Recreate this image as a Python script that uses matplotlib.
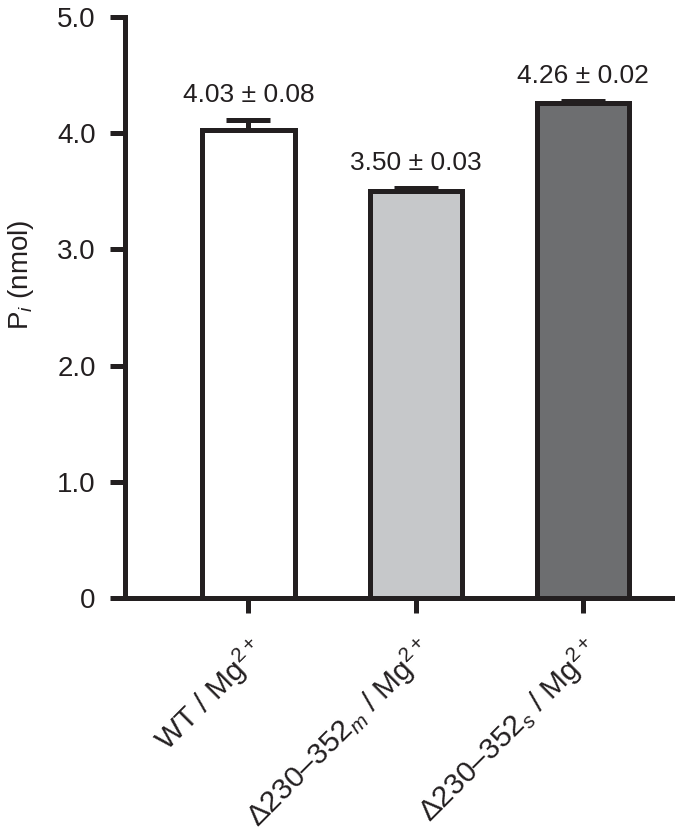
import matplotlib
matplotlib.use('Agg')
import matplotlib.pyplot as plt

plt.rcParams['font.family'] = ['Liberation Sans', 'DejaVu Sans']
plt.rcParams['mathtext.fontset'] = 'custom'
plt.rcParams['mathtext.rm'] = 'Liberation Sans'
plt.rcParams['mathtext.it'] = 'Liberation Sans:italic'

# data
groups = [r'WT / Mg$^{2+}$',
          r'Δ230–352$_{m}$ / Mg$^{2+}$',
          r'Δ230–352$_{s}$ / Mg$^{2+}$']
means = [4.03, 3.50, 4.26]
errors = [0.08, 0.03, 0.02]
value_labels = ['4.03 ± 0.08', '3.50 ± 0.03', '4.26 ± 0.02']
colors = ['#ffffff', '#c6c8ca', '#6d6e70']
yticks = [0, 1, 2, 3, 4, 5]
yticklabels = ['0', '1.0', '2.0', '3.0', '4.0', '5.0']

ink = '#231f20'
lw = 3.6

fig = plt.figure(figsize=(6.75, 8.4), dpi=100)
ax = fig.add_axes([0.1852, 0.288, 0.8148, 0.6918])

x = list(range(len(groups)))
ax.bar(x, means, width=0.55, color=colors, edgecolor=ink, linewidth=lw, zorder=2)
ax.errorbar(x, means, yerr=[[0] * len(errors), errors], fmt='none',
            ecolor=ink, elinewidth=lw, capsize=16, capthick=lw, zorder=3)

for xi, m, e, lab in zip(x, means, errors, value_labels):
    ax.annotate(lab, (xi, m + e), xytext=(0, 13), textcoords='offset points',
                ha='center', va='baseline', fontsize=19, color=ink)

ax.set_xlim(-0.738, 2.549)
ax.set_ylim(0, 5)
ax.set_yticks(yticks)
ax.set_yticklabels(yticklabels, fontsize=20, color=ink)
ax.set_xticks(x)
ax.set_xticklabels(groups, rotation=45, ha='right', rotation_mode='anchor',
                   fontsize=21.5, color=ink)
ax.set_ylabel(r'P$_{i}$ (nmol)', fontsize=20, color=ink)
ax.yaxis.set_label_coords(-0.162, 0.556)

for s in ['top', 'right']:
    ax.spines[s].set_visible(False)
for s in ['left', 'bottom']:
    ax.spines[s].set_linewidth(lw)
    ax.spines[s].set_color(ink)
    ax.spines[s].set_capstyle('projecting')
ax.tick_params(axis='both', length=11, width=lw, color=ink, pad=10)
ax.tick_params(axis='x', pad=14)

fig.savefig('out.png', dpi=100)
